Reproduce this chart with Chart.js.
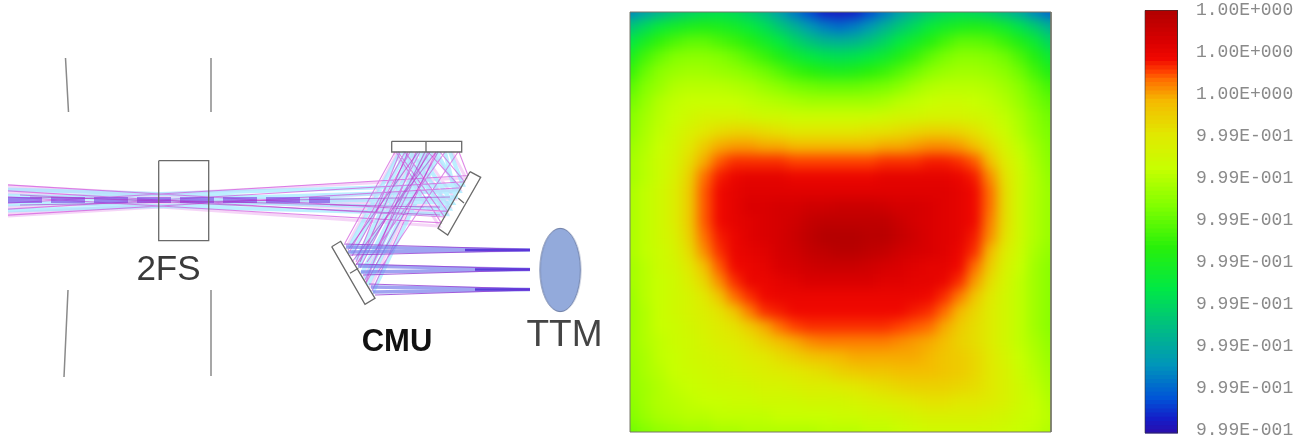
<!DOCTYPE html>
<html>
<head>
<meta charset="utf-8">
<title>2FS CMU TTM</title>
<script src="https://cdn.jsdelivr.net/npm/chart.js@4"></script>
<style>
    html, body { margin: 0; padding: 0; background: #fff; }
    canvas { display: block; filter: blur(0.5px); }
</style>
</head>
<body>
<canvas id="chartOptica" width="1304" height="436"></canvas>
<script>
// ===== DADOS =====
// Mapa de calor: 29 linhas x 29 colunas, valor 0 (azul) a 100 (vermelho escuro)
const heatValues = [
    [14,18,22,26,29,31,32,31,28,24,18,12,7,3,2,3,7,12,18,23,27,30,31,30,28,24,20,14,10],
    [26,31,36,39,41,42,41,39,36,32,27,22,17,13,11,13,17,22,27,31,36,39,41,42,41,38,33,28,22],
    [34,40,45,48,50,50,48,46,43,39,35,30,26,23,22,23,26,30,35,39,43,47,50,50,49,46,42,37,30],
    [40,47,51,54,55,55,54,52,49,46,42,38,35,33,32,33,35,38,42,46,50,53,55,55,54,52,48,43,37],
    [45,51,55,57,58,58,57,56,54,52,49,46,44,42,41,42,44,46,49,52,55,57,58,58,57,55,52,47,42],
    [49,54,57,60,61,61,61,60,59,57,55,53,52,51,51,51,52,53,55,58,60,61,61,61,60,58,55,51,47],
    [52,56,60,62,63,63,63,63,62,61,60,59,58,58,58,58,58,59,61,62,63,64,64,63,62,60,57,53,50],
    [54,58,61,63,65,67,67,67,66,65,65,64,64,64,64,64,64,65,66,66,67,67,67,66,65,62,59,55,52],
    [55,59,62,65,68,71,73,74,74,73,72,71,71,71,71,71,72,72,73,74,75,75,74,72,68,64,60,56,53],
    [57,60,63,66,71,76,80,81,81,80,80,79,79,79,79,79,79,80,80,81,82,82,81,78,73,67,62,58,54],
    [58,61,64,67,73,80,85,87,87,87,87,86,86,86,86,86,86,87,87,87,88,88,87,85,78,70,64,59,55],
    [58,61,64,68,75,84,88,90,91,91,91,90,90,90,90,90,90,91,91,91,91,91,90,88,82,72,65,60,56],
    [59,62,65,69,76,85,89,91,92,92,92,92,92,92,92,92,92,92,92,92,92,92,91,89,84,73,65,60,57],
    [59,62,65,69,76,85,89,91,93,93,94,94,95,95,96,96,96,95,94,94,93,92,91,89,84,73,65,60,57],
    [59,62,65,69,76,85,89,91,92,93,94,95,97,98,98,98,98,98,96,94,93,92,91,89,83,73,65,60,57],
    [59,62,65,68,75,84,88,90,92,93,94,96,98,100,100,100,99,99,97,95,93,92,91,88,82,72,65,60,57],
    [59,62,64,67,73,82,87,90,91,92,94,95,97,98,99,99,98,97,95,94,93,92,90,87,79,70,64,59,56],
    [58,61,64,66,71,78,85,89,90,91,93,94,95,96,96,96,95,94,93,92,91,91,89,84,76,68,63,58,55],
    [58,61,63,65,69,74,82,87,90,90,91,92,93,93,93,93,93,92,92,91,91,90,87,81,73,67,62,58,55],
    [57,61,63,65,67,71,77,84,87,89,90,90,90,90,90,90,90,90,90,90,89,87,83,77,71,66,62,58,55],
    [57,60,63,65,67,69,72,77,83,87,88,89,89,89,89,89,89,89,89,88,87,84,79,74,70,66,62,58,55],
    [57,60,63,64,66,68,70,72,76,80,84,86,87,87,87,87,87,87,86,85,84,80,76,73,70,66,62,58,55],
    [57,60,62,64,65,67,69,70,72,75,78,80,82,83,83,83,83,83,82,81,80,78,75,73,70,66,62,59,56],
    [57,59,62,63,65,66,67,68,70,71,73,75,77,78,79,80,80,80,80,80,79,77,76,74,71,67,63,60,57],
    [56,59,61,63,64,65,66,67,68,69,70,71,72,73,75,76,77,77,78,78,78,77,76,74,71,68,64,61,58],
    [56,58,60,62,63,64,65,65,66,67,67,68,69,69,70,71,72,73,74,75,75,75,74,73,71,68,65,62,59],
    [55,58,60,61,62,63,63,64,64,65,65,65,66,66,66,67,68,69,70,71,72,72,71,71,70,68,65,63,60],
    [54,57,59,60,61,61,62,62,62,62,63,63,63,63,64,64,65,65,66,67,68,68,68,68,67,66,64,63,61],
    [52,54,56,57,58,58,59,59,60,60,60,60,60,61,61,61,62,62,63,64,65,65,65,65,65,64,63,62,60]
];

// Escala de cores
const colorStops = [0, 3, 8, 16, 25, 34, 44, 54, 63, 71, 79, 84, 86, 89, 93, 100];
const colorRgb = [
    [40,16,176], [20,30,200], [0,85,215], [0,150,185], [0,190,130], [0,232,70], [40,240,10],
    [130,255,0], [200,255,0], [225,232,0], [245,185,0], [255,110,0], [255,65,0], [240,8,0], [218,0,0], [180,0,0]
];
const colorbarLevels = [
    0,1,2,3,4,5,6,7,8,9,10,11,12,13,14,15,16,17,18,19,20,21,22,23,24,25,26,27,28,29,30,31,32,33,
    34,35,36,37,38,39,40,41,42,43,44,45,46,47,48,49,50,51,52,53,54,55,56,57,58,59,60,61,62,63,64,65,66,
    67,68,69,70,71,72,73,74,75,76,77,78,79,80,81,82,83,84,85,86,87,88,89,90,91,92,93,94,95,96,97,98,99,100
];
const colorbarTicks = [0.24, 10.28, 20.31, 30.35, 40.38, 50.42, 60.46, 70.5, 80.5, 90.6, 100.6];
const colorbarTickLabels = [
    '9.99E-001', '9.99E-001', '9.99E-001', '9.99E-001', '9.99E-001', '9.99E-001',
    '9.99E-001', '9.99E-001', '1.00E+000', '1.00E+000', '1.00E+000'
];

// Diagrama: cada item é [x1, y1, x2, y2, ...]
const raysPink = [
    [8,203.1,160,194,468,175.5,459,152], [8,184.9,160,194,447.7,211.3,405,152],
    [8,209.1,160,200,464.6,181.7,440,152], [8,190.9,160,200,444.5,217,398,152],
    [8,215.1,160,206,461,187.7,428,152], [8,196.9,160,206,441.3,222.9,396,152],
    [395,152,345,243], [405,152,350,251], [410,152,352,256], [420,152,360,268],
    [428,152,365,280], [436,152,372,291], [445,152,367,262], [458,152,378,272],
    [400,152,356,262], [416,152,366,282]
];
const raysPale = [
    [8,186,160,194,466,178,452,152], [8,189,160,195,450,207,412,152],
    [8,213,160,205,460,190,432,152], [8,216,160,207,439,226,394,152],
    [8,193,160,198,447,213,404,152], [8,207,160,202,455,199,422,152],
    [398,152,347,246], [414,152,358,264], [426,152,364,277], [434,152,370,288]
];
const raysCyan = [
    [8,198.6,160,194,463,184.9,450,152], [8,189.4,160,194,452.6,202.8,418,152],
    [8,204.6,160,200,459.3,191,436,152], [8,195.4,160,200,449.3,208.7,410,152],
    [8,210.6,160,206,456,197.1,445,152], [8,201.4,160,206,446.2,214.2,402,152],
    [400,152,349,248], [412,152,356,260], [424,152,362,273], [432,152,368,285], [440,152,373,292],
    [406,152,352,254], [418,152,359,266], [428,152,365,279]
];
const raysPurple = [
    [418,152,348,250], [430,152,356,265], [438,152,366,283], [408,152,360,262],
    [20,195,440,215], [20,205,450,197], [30,197,424,207], [330,205,440,207],
    [425,152,376,250], [436,152,352,262]
];
const beamCore = [[8,200,330,200]];
const focusFill = [
    [346,247,530,250], [348,252,530,250], [358,266,530,269.5], [361,272,530,269.5],
    [371,287,530,289.5], [373,292,530,289.5]
];
const focusEdges = [
    [344,244,530,249.5], [350,255,530,250.5], [356,264,530,269], [363,275,530,270],
    [369,284,530,289], [375,295,530,290]
];
const focusCore = [[465,250,530,250], [475,269.5,530,269.5], [475,289.5,530,289.5]];

const greyLines = [
    [65.5,58,68.5,112], [211,58,211,112], [68,290,64,377], [211,290,211,376]
];
const mirrorLines = [
    [158.7,160.7,208.7,160.7,208.7,240.7,158.7,240.7,158.7,160.7],
    [391.7,141.3,461.7,141.3,461.7,152,391.7,152,391.7,141.3], [426,141.3,426,152],
    [470,171.7,480.7,177.3,447.7,235,438,228.3,470,171.7], [458.3,198.3,464,203],
    [331.7,246.7,340.7,241.3,375,298.3,365,304.3,331.7,246.7], [350,273.3,358.3,268.3]
];
const ttmCenter = [[560.3, 270]];

const labelTexts = ['2FS', 'TTM', 'CMU'];
const labelX = [168.5, 564.5, 397];
const labelY = [270, 336, 342];
const labelFonts = ['35px "Liberation Sans"', '37px "Liberation Sans"', 'bold 31px "Liberation Sans"'];
const labelColors = ['#3a3a3a', '#444444', '#111111'];

const heatEdge = [[630,12,1051,12,1051,432,630,432,630,12]];
const colorbarEdge = [[1145,10.5,1177.5,10.5,1177.5,433,1145,433,1145,10.5]];

// ===== FUNÇÕES =====
function corDoValor(v) {
    let i = 0;
    while (i < colorStops.length - 2 && v > colorStops[i + 1]) i++;
    const t = (v - colorStops[i]) / (colorStops[i + 1] - colorStops[i]);
    const c = colorRgb[i].map((a, k) => Math.round(a + (colorRgb[i + 1][k] - a) * t));
    return `rgb(${c[0]},${c[1]},${c[2]})`;
}

// transforma a lista de segmentos em pontos, com null separando cada raio
function pontosDe(lista) {
    const pts = [];
    lista.forEach(seg => {
        for (let i = 0; i < seg.length; i += 2) pts.push({ x: seg[i], y: seg[i + 1] });
        pts.push({ x: seg[seg.length - 2], y: null });
    });
    return pts;
}

function linhas(lista, cor, largura, extra) {
    return Object.assign({
        data: pontosDe(lista),
        showLine: true,
        borderColor: cor,
        borderWidth: largura,
        pointRadius: 0,
        fill: false,
        spanGaps: false
    }, extra || {});
}

function criarElipse() {
    const c = document.createElement('canvas');
    c.width = 44;
    c.height = 86;
    const g = c.getContext('2d');
    g.beginPath();
    g.ellipse(22, 43, 20.3, 41.7, 0, 0, Math.PI * 2);
    g.fillStyle = '#93aadb';
    g.fill();
    g.lineWidth = 1;
    g.strokeStyle = '#6f7fa6';
    g.stroke();
    return c;
}

// ===== DATASETS =====
const heatPoints = [];
const heatColors = [];
heatValues.forEach((linha, j) => {
    linha.forEach((v, i) => {
        heatPoints.push({ x: i, y: j });
        heatColors.push(corDoValor(v));
    });
});

const datasets = [
    { data: ttmCenter.map(p => ({ x: p[0], y: p[1] })), pointStyle: criarElipse(), pointRadius: 20 },
    linhas(mirrorLines, '#6a6a6a', 1.3),
    linhas(greyLines, '#8a8a8a', 1.5),
    linhas(heatEdge, '#77776a', 1),
    linhas(colorbarEdge, 'rgba(50,50,50,0.6)', 1),
    {
        data: colorbarLevels.map(v => ({ x: 1161.5, y: v })),
        yAxisID: 'yBar',
        pointStyle: 'line',
        pointRadius: 16.5,
        pointBorderWidth: 5,
        pointBorderColor: colorbarLevels.map(corDoValor)
    },
    linhas(focusCore, 'rgba(85,50,215,0.9)', 2.5),
    linhas(focusEdges, 'rgba(150,60,210,0.8)', 1.2),
    linhas(focusFill, 'rgba(120,125,235,0.7)', 3.5),
    linhas(raysPurple, 'rgba(175,40,195,0.55)', 1.2),
    linhas(beamCore, 'rgba(125,60,225,0.6)', 6, { borderDash: [34, 9] }),
    linhas(raysPink, 'rgba(210,85,220,0.7)', 1.1),
    linhas(raysCyan, 'rgba(160,232,255,0.7)', 4),
    linhas(raysPale, 'rgba(238,185,242,0.6)', 3),
    {
        data: heatPoints,
        xAxisID: 'xHeat',
        yAxisID: 'yHeat',
        pointStyle: 'rect',
        pointRadius: 11.4,
        pointBorderWidth: 0,
        pointBackgroundColor: heatColors
    }
];
const heatIndex = datasets.length - 1;

// ===== PLUGIN =====
const pluginOptica = {
    id: 'pluginOptica',
    afterDatasetDraw(chart, args) {
        if (args.index !== heatIndex) return;
        // suaviza as células e limpa o que passou da borda do mapa
        const ctx = chart.ctx;
        const e = chart.scales.x.getPixelForValue(630);
        const d = chart.scales.x.getPixelForValue(1051);
        const t = chart.scales.y.getPixelForValue(12);
        const b = chart.scales.y.getPixelForValue(432);
        ctx.save();
        ctx.beginPath();
        ctx.rect(e, t, d - e, b - t);
        ctx.clip();
        ctx.filter = 'blur(6px)';
        ctx.drawImage(chart.canvas, 0, 0);
        ctx.restore();
        ctx.clearRect(e - 14, 0, 14, 436);
        ctx.clearRect(d, 0, 14, 436);
        ctx.clearRect(e - 14, 0, d - e + 28, t);
        ctx.clearRect(e - 14, b, d - e + 28, 436 - b);
    },
    afterDatasetsDraw(chart) {
        const ctx = chart.ctx;
        const escalaBarra = chart.scales.yBar;
        ctx.save();
        ctx.textBaseline = 'middle';
        ctx.textAlign = 'center';
        labelTexts.forEach((txt, i) => {
            ctx.font = labelFonts[i];
            ctx.fillStyle = labelColors[i];
            ctx.fillText(txt, chart.scales.x.getPixelForValue(labelX[i]), chart.scales.y.getPixelForValue(labelY[i]));
        });
        // rótulos da escala de cores
        ctx.textAlign = 'left';
        ctx.font = '18px "Liberation Mono"';
        ctx.fillStyle = '#8a8a8a';
        colorbarTicks.forEach((v, i) => {
            ctx.fillText(colorbarTickLabels[i], chart.scales.x.getPixelForValue(1196), escalaBarra.getPixelForValue(v));
        });
        ctx.restore();
    }
};

// ===== GRÁFICO =====
new Chart(document.getElementById('chartOptica').getContext('2d'), {
    type: 'scatter',
    data: { datasets: datasets },
    plugins: [pluginOptica],
    options: {
        responsive: false,
        animation: false,
        events: [],
        layout: { padding: 0, autoPadding: false },
        plugins: {
            legend: { display: false },
            tooltip: { enabled: false }
        },
        scales: {
            x: { type: 'linear', min: 0, max: 1304, display: false },
            y: { type: 'linear', min: 0, max: 436, reverse: true, display: false },
            xHeat: { axis: 'x', type: 'linear', min: -42, max: 44.9333, display: false },
            yHeat: { axis: 'y', type: 'linear', min: -0.8, max: 28.2667, reverse: true, display: false },
            yBar: { axis: 'y', type: 'linear', min: -1.19, max: 103, display: false }
        }
    }
});
</script>
</body>
</html>
